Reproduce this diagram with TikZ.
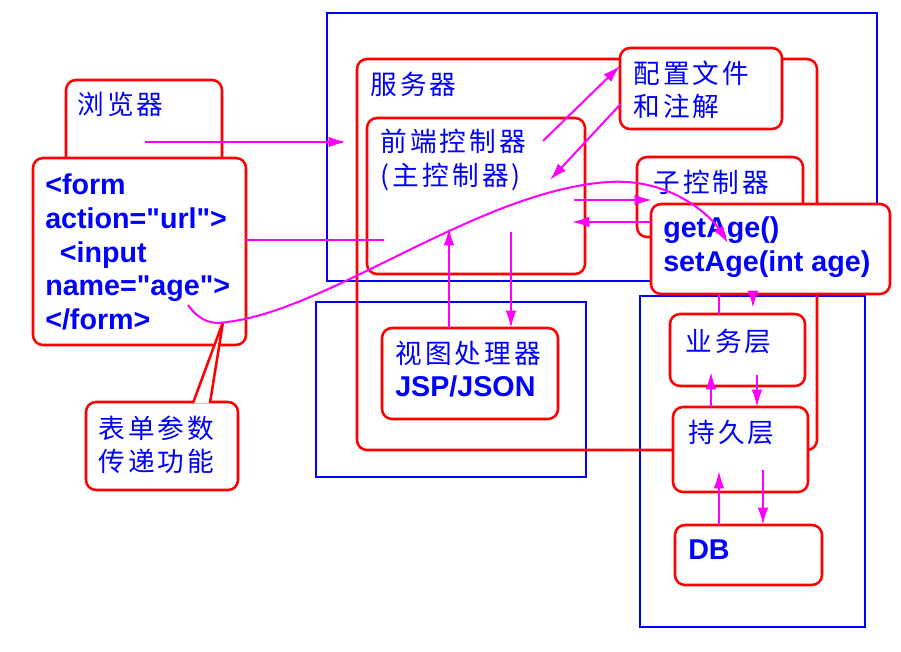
\documentclass[tikz,border=0pt]{standalone}
\usepackage{fontspec}
\newfontfamily\cjk[LetterSpace=12]{Noto Sans CJK SC}
\newfontfamily\codefont{Liberation Sans}
\usetikzlibrary{calc}
\usetikzlibrary{arrows.meta}

\definecolor{flowpink}{RGB}{255,0,255}
\tikzset{
  box/.style={draw=red, line width=1.9pt, rounded corners=7.5pt, fill=white,
    inner sep=0pt, outer sep=0pt, anchor=north west},
  bframe/.style={draw=blue, line width=1.8pt, inner sep=0pt, outer sep=0pt,
    anchor=north west},
  sz/.style 2 args={minimum width=#1*0.75pt, minimum height=#2*0.75pt},
  cn/.style={text=blue, font=\cjk\fontsize{20}{25}\selectfont, anchor=west,
    inner sep=0pt, align=left},
  code/.style={text=blue, font=\codefont\bfseries\fontsize{21.5}{25.3}\selectfont,
    anchor=west, inner sep=0pt, align=left},
  flow/.style={draw=flowpink, line width=1.5pt},
  arr/.style={flow, -{Latex[length=13pt,width=8pt]}},
}

\begin{document}
\begin{tikzpicture}[x=0.75pt,y=-0.75pt]
  \useasboundingbox (0,0) rectangle (901,651);

  % blue frames
  \node[bframe, sz={550}{268}] (bsrv) at (327,13) {};
  \node[bframe, sz={270}{175}] (bview) at (316,302) {};
  \node[bframe, sz={225}{331}] (bbiz) at (640,296) {};

  % red boxes
  \node[box, sz={156}{120}] (browser) at (66,80) {};
  \node[box, sz={213}{187}] (form) at (33,158) {};
  \node[box, fill=none, sz={460}{391}] (server) at (357,59) {};
  \node[box, sz={218}{156}] (front) at (367,118) {};
  \node[box, sz={162}{81}] (cfg) at (620,48) {};
  \node[box, sz={166}{80}] (sub) at (637,157) {};
  \node[box, sz={239}{90}] (bean) at (651,204) {};
  \node[box, sz={176}{91}] (view) at (382,328) {};
  \node[box, sz={135}{72}] (biz) at (670,314) {};
  \node[box, sz={135}{85}] (dao) at (673,407) {};
  \node[box, sz={147}{60}] (db) at (675,525) {};
  \node[box, sz={152}{88}] (note) at (86,402) {};

  % callout pointer
  \coordinate (tip) at (223,322);
  \filldraw[draw=red, fill=white, line width=1.9pt]
    ($(note.north west)+(107,1)$) -- (tip) -- ($(note.north west)+(124,1)$);

  % texts
  \node[cn] (tbrowser) at (77,104) {浏览器};
  \node[code] (tform) at (45,252)
    {<form\\action="url">\\\hspace*{11pt}<input\\name="age">\\</form>};
  \node[cn] (tserver) at (370,84) {服务器};
  \node[cn] (tfront) at (380,160) {前端控制器\\(主控制器)};
  \node[cn] (tcfg) at (633,89.5) {配置文件\\和注解};
  \node[cn] (tsub) at (653,182) {子控制器};
  \node[code] (tbean) at (663,247) {getAge()\\setAge(int age)};
  \node[cn] (tview) at (395,353) {视图处理器};
  \node[code] (tjsp) at (395,386) {JSP/JSON};
  \node[cn] (tbiz) at (685,341) {业务层};
  \node[cn] (tdao) at (688,432) {持久层};
  \node[code] (tdb) at (688,550) {DB};
  \node[cn] (tnote) at (98,445) {表单参数\\传递功能};

  % free ends
  \coordinate (p1) at (145,142);
  \coordinate (p2) at (346,142);
  \coordinate (p3) at (384,240);
  \coordinate (p4) at (543,141);
  \coordinate (p5) at (550,180);
  \coordinate (p6) at (574,200);
  \coordinate (p7) at (652,200);
  \coordinate (p8) at (572,222);
  \coordinate (p9) at (449,228);
  \coordinate (p10) at (511,232);
  \coordinate (q1) at (719,300);
  \coordinate (q2) at (753,308);
  \coordinate (q3) at (711,372);
  \coordinate (q4) at (757,375);
  \coordinate (q5) at (719,471);
  \coordinate (q6) at (763,470);
  \coordinate (age) at (188,305);
  \coordinate (tgt) at (728,243);

  % connectors
  \draw[arr] (p1) -- (p2);
  \draw[flow] (form.east |- p3) -- (p3);
  \draw[arr] (p4) -- ($(cfg.north west)!0.22!(cfg.south west)$);
  \draw[arr] ($(cfg.north west)!0.7!(cfg.south west)$) -- (p5);
  \draw[arr] (p6) -- (p7);
  \draw[arr] (bean.west |- p8) -- (p8);
  \draw[arr] (p9 |- view.north) -- (p9);
  \draw[arr] (p10) -- (p10 |- view.north);
  \draw[flow] (q1 |- bean.south) -- (q1 |- biz.north);
  \draw[arr] (q2 |- bean.south) -- (q2);
  \draw[arr] (q3 |- dao.north) -- (q3);
  \draw[arr] (q4) -- (q4 |- dao.north);
  \draw[arr] (q5 |- db.north) -- (q5);
  \draw[arr] (q6) -- (q6 |- db.north);

  % form parameter to bean
  \draw[arr] (age) .. controls (200,322) and (214,325) .. (227,322)
    .. controls (330,310) and (480,190) .. (609,182)
    .. controls (670,178) and (710,215) .. (tgt);
\end{tikzpicture}
\end{document}
